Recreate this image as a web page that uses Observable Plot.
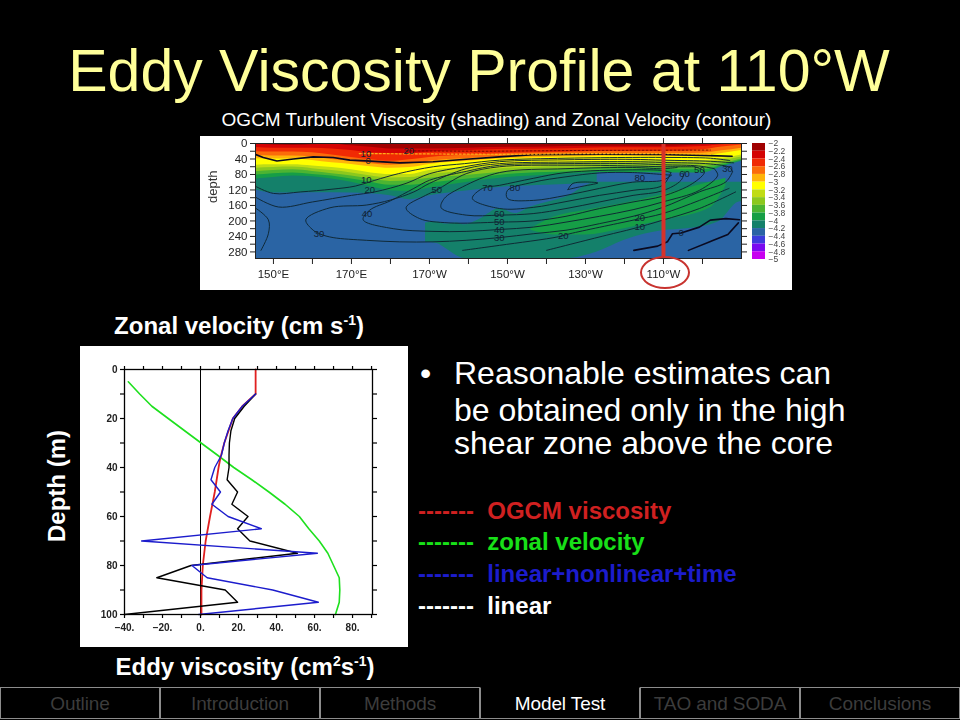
<!DOCTYPE html>
<html><head><meta charset="utf-8">
<script src="https://cdn.jsdelivr.net/npm/d3@7"></script>
<script src="https://cdn.jsdelivr.net/npm/@observablehq/plot@0.6"></script>
<style>
html,body{margin:0;background:#000;width:960px;height:720px;overflow:hidden;font-family:"Liberation Sans",sans-serif}
.a{position:absolute;white-space:nowrap}
.panel{position:absolute;background:#fff}
.b{font-weight:bold;color:#fff;font-size:24px}
sup{font-size:14px;line-height:0}
.tab{position:absolute;top:687px;width:160px;height:32px;box-sizing:border-box;border:1px solid #8c8c8c;text-align:center;line-height:32px;font-size:19px;letter-spacing:-.1px;color:#3c3c3c}
.leg{position:absolute;left:418px;font-weight:bold;font-size:24px;white-space:pre;line-height:26px}
.t{font-size:32px;color:#fff;line-height:34px}
svg{filter:blur(.35px)}
</style></head><body>
<div class="a" id="title" style="left:0;width:958px;text-align:center;top:33px;font-size:59px;color:#ffff99;line-height:76px">Eddy Viscosity Profile at 110°W</div>
<div class="a" style="left:0;width:993px;text-align:center;top:110px;font-size:19px;color:#fff;line-height:20px">OGCM Turbulent Viscosity (shading) and Zonal Velocity (contour)</div>
<div class="panel" style="left:200px;top:136px;width:592px;height:154px"></div>
<div class="panel" style="left:80px;top:346px;width:328px;height:301px"></div>
<div class="a b" style="left:0;width:478px;text-align:center;top:314px;line-height:24px">Zonal velocity (cm s<sup>-1</sup>)</div>
<div class="a b" style="left:0;width:490px;text-align:center;top:655px;line-height:24px">Eddy viscosity (cm<sup>2</sup>s<sup>-1</sup>)</div>
<div class="a b" style="left:57px;top:486px;transform:translate(-50%,-50%) rotate(-90deg)">Depth (m)</div>
<div class="a t" style="left:420px;top:356px">•</div>
<div class="a t" style="left:454px;top:356px">Reasonable estimates can</div>
<div class="a t" style="left:454px;top:393px">be obtained only in the high</div>
<div class="a t" style="left:454px;top:426px">shear zone above the core</div>
<div class="leg" style="top:498px;color:#d02020">-------  OGCM viscosity</div>
<div class="leg" style="top:529px;color:#18e018">-------  zonal velocity</div>
<div class="leg" style="top:561px;color:#1c1ccc">-------  linear+nonlinear+time</div>
<div class="leg" style="top:593px;color:#fff">-------  linear</div>
<div id="tabs"></div>
<div id="p1" class="a" style="left:200px;top:136px"></div>
<div id="p2" class="a" style="left:745px;top:136px"></div>
<div id="p3" class="a" style="left:80px;top:346px"></div>
<div class="a" style="left:640px;top:256px;width:46px;height:29px;border:2px solid #c8332f;border-radius:50%"></div>
<script>
// ---- navigation
const tabNames = ["Outline","Introduction","Methods","Model Test","TAO and SODA","Conclusions"];
const activeTab = "Model Test";

// ---- profile chart (depth in m, value in chart units)
const ogcmDepth = [0,10,15,20,30,36,40,50,60,70,80,90,100];
const ogcmValue = [29,29,22,17,12.5,10.5,9.5,7.5,5,2.7,1.2,.5,.5];
const zonalDepth = [5,10,15,20,30,35,40,45,50,55,60,65,70,75,80,85,90,95,100];
const zonalValue = [-38,-32,-25.6,-17,0.3,9,17.5,27,36,44.5,52,57,62.5,67,70,73,73.3,73,71];
const linearDepth = [10,15,20,25,30,35,40,45,50,55,60,65,70,75,80,85,90,95,100];
const linearValue = [29,23,18,16,15.2,15,15,14,19.5,16.5,25,19.5,26,51,-5,-23,13,19.5,-40];
const fullDepth = [10,15,20,25,30,35,40,45,50,55,60,65,70,75,80,85,90,95,100];
const fullValue = [29,22,17,14.5,12.5,11,7.5,5.5,10.5,6,14.5,32,-31,61.5,-4.5,3.5,38,62,-1];
const profileXTicks = [-40,-30,-20,-10,0,10,20,30,40,50,60,70,80,90];
const profileXLabels = [-40,-20,0,20,40,60,80];
const profileYTicks = [0,10,20,30,40,50,60,70,80,90,100];
const profileYLabels = [0,20,40,60,80,100];

// ---- shading: depth of each colour boundary, read at these longitudes (deg E)
const bandLon = [145,150,155,160,165,170,175,180,185,190,200,210,220,230,240,250,260,265,270];
const edge22 = [0,4,5,3,1,6,10,14,14,14,12,10,9,7,7,7,3,0,0];
const edge24 = [10,12,12,12,14,18,24,26,26,22,18,15,14,12,11,11,8,3,0];
const edge26 = [21,22,22,24,30,36,42,46,42,36,30,26,24,21,20,20,16,9,4];
const edge28 = [31,32,32,35,41,46,52,56,53,46,39,33,31,28,27,27,25,19,12];
const edge30 = [39,40,40,44,50,54,60,64,62,54,46,39,36,34,33,34,32,26,18];
const edge32 = [56,55,55,58,62,68,76,80,80,70,62,56,52,48,46,44,44,39,30];
const edge34 = [64,62,61,65,70,76,84,89,88,80,72,64,60,56,53,52,52,45,35];
const edge36 = [73,70,68,72,78,84,92,98,96,90,82,73,68,64,60,60,60,52,40];
const edge38 = [82,78,76,80,84,92,100,108,108,102,92,80,75,72,68,68,68,56,43];
const edge40 = [92,88,84,86,92,100,112,122,124,115,100,88,82,76,75,76,76,60,46];
const edge42Lon = [145,150,160,170,180,185,190,200,210,220,233];
const edge42 = [118,128,127,128,135,145,135,122,112,108,102];
// deep teal tongue under the blue lens
const deepLon = [189,192,194,197,199,203,208,212,216,225,233,240,250,256,264,269.4,270.5];
const deepTop = [205,203,208,205,210,195,168,181,164,138,100,100,100,100,100,100,100];
const deepBot = [255,258,270,290,297,297,297,297,297,297,280,250,225,220,203,151,150];
// greener leaf inside the tongue
const leafLon = [216,222,230,239,249,262,266];
const leafTop = [220,190,173,156,134,100,90];
const leafBot = [224,236,236,222,200,166,110];
const bandEdges = [-2,-2.2,-2.4,-2.6,-2.8,-3,-3.2,-3.4,-3.6,-3.8,-4,-4.2,-4.4,-4.6,-4.8,-5];
const bandColors = ["#a00000","#d40404","#f02a04","#fb6c0a","#ffb40a","#ffff00","#c0dc14","#8cc81e","#4cb432","#169e46","#14806a","#2a64a4","#3c3cdc","#7a0af0","#c800f0"];

// ---- velocity contours: [lon, depth]
const v0a = [[145.3,28],[147.4,36],[150.9,45],[155.1,40],[160.2,34.5],[165.3,36],[169.6,43],[173.8,45],[182.4,50],[190.9,47],[199.4,40.5],[207.9,34.5],[216.5,29],[233.5,27.6],[249.7,28.4],[267.6,32.8]];
const v0b = [[242.4,276],[248.5,265],[251,254],[252.3,233],[254.5,231],[259.2,216],[262,198],[266,194],[269.5,197]];
const v0c = [[256.4,276],[266.5,235],[269.2,205]];
const v10a = [[145.3,110],[150,129],[157,125],[165,118],[171,110],[176,95],[182,78],[191,60],[199,52],[208,43],[225,38],[242,36],[250,36],[262,38],[267,44]];
const v10b = [[220,276],[235.3,237],[242.2,220],[249.8,198],[259.2,168],[268.5,125]];
const v20a = [[145.3,138],[151.3,164],[160,151],[170,134],[176,125],[184,103],[190,78],[199,60],[208,47],[225,42],[242,41],[250,43],[262,46],[268,50]];
const v20b = [[198.5,276],[208,263],[223,241],[226,233],[242.2,198],[249.8,181],[259.2,147],[266.8,116]];
const v30a = [[145.3,166],[148.7,197],[148.7,233],[146.8,276]];
const v30b = [[267.7,73],[267,62],[262,53],[250,49],[242,47],[225,48],[208,52],[199.4,65],[190,103],[186,125],[180,146],[173.8,159],[164.5,166],[158.3,197],[160.2,224],[162,234],[165.3,243],[173.8,250],[182.4,254],[190.9,254],[199.4,250],[208,243],[216.6,233],[225,224],[233.6,207],[242.2,188],[249.8,165],[259.2,125],[266,99],[267.7,73]];
const v40 = [[263,65],[259,58],[250,55],[242,52],[225,52],[208,56],[199.4,72],[190,95],[186,116],[180,148],[174.7,172],[173,197],[180.7,220],[190.9,227],[199.4,227],[208,222],[216.6,216],[225,203],[233.6,188],[242.2,171],[249.8,151],[259.2,121],[263.9,82],[263,65]];
const v50 = [[258,60],[250,60],[242,58],[225,56],[208,60],[199.4,78],[191.7,121],[189,134],[184,166],[187.5,194],[195,205],[208,203],[216.6,200],[225,188],[233.6,168],[242.2,151],[249.8,136],[257.5,103],[260.5,73],[258,60]];
const v60 = [[253.5,62],[250,65],[242,62],[225,65],[208,75],[198.5,112],[193.8,142],[193,166],[199.4,185],[208,185],[216.6,181],[225,168],[233.6,151],[242.2,134],[249.8,122],[254.5,95],[255.4,73]];
const v70 = [[251.9,75],[250,70],[242,68],[225,75],[216.6,90],[208,108],[203.6,116],[201,142],[208,168],[216.6,165],[225,150],[233.6,134],[242.2,121],[249.8,108],[251.9,75]];
const v80 = [[252,82],[242,75],[233.6,76],[225,86],[216.6,100],[210,121],[210,142],[216.6,147],[225,134],[233.6,116],[242,100],[249.8,95],[252,82]];
const v90 = [[225.5,119],[226.8,103],[233.2,102],[228.5,112],[225.5,119]];
const thinContours = [v10a,v10b,v20a,v20b,v30a,v30b,v40,v50,v60,v70,v80,v90];
const thickContours = [v0a,v0b,v0c];
const dashA = [[172,26],[190,27],[210,28],[230,26],[262,26]];
const dashB = [[184,19],[205,20],[228,18],[262,17]];

const contourLabels = [["10",173.8,95],["20",174.7,119],["30",161.7,233],["40",174,181],["50",191.9,121],["70",204.9,116],["10",173.7,26],["20",184.7,19],["0",174.3,45],["80",211.9,114],["80",243.9,89],["60",255.4,78],["50",259.2,69],["30",266.4,65],["60",207.9,183],["50",207.9,203],["40",207.9,223],["30",207.9,243],["20",224.3,240],["20",243.9,191],["10",243.9,216],["0",254.5,231]];

const lonTicks = [150,160,170,180,190,200,210,220,230,240,250,260];
const lonLabels = {150:"150°E",170:"170°E",190:"170°W",210:"150°W",230:"130°W",250:"110°W"};
const depthTicks = [0,20,40,60,80,100,120,140,160,180,200,220,240,260,280];
const depthLabels = [0,40,80,120,160,200,240,280];
const markerLon = 250;

// ---- build
const tabs = document.getElementById("tabs");
tabNames.forEach((n,i)=>{
  const d = document.createElement("div");
  d.className="tab"; d.textContent=n; d.style.left=(i*160)+"px";
  if(n===activeTab){d.style.color="#fff";d.style.borderTopColor="#000";}
  tabs.appendChild(d);
});

const font = "'Liberation Sans',sans-serif";
const layer = (lons,depths,color)=>Plot.areaY(lons.map((lon,i)=>({lon,d:depths[i]})),{x:"lon",y1:()=>0,y2:"d",fill:color,curve:"monotone-x",clip:true});
const band = (lons,tops,bots,color)=>Plot.areaY(lons.map((lon,i)=>({lon,t:tops[i],b:bots[i]})),{x:"lon",y1:"t",y2:"b",fill:color,curve:"monotone-x",clip:true});
const pts = a=>a.map(([lon,depth])=>({lon,depth}));
const stack = [edge40,edge38,edge36,edge34,edge32,edge30,edge28,edge26,edge24,edge22];

document.getElementById("p1").append(Plot.plot({
  width:592,height:154,marginLeft:55,marginRight:51,marginTop:7,marginBottom:32,
  style:{background:"transparent",fontFamily:font,fontSize:"11.5px",color:"#222"},
  x:{domain:[145.4,270],axis:null},
  y:{domain:[297,0],axis:null},
  marks:[
    Plot.rect([0],{x1:()=>145.4,x2:()=>270,y1:()=>0,y2:()=>297,fill:bandColors[11]}),
    band(deepLon,deepTop,deepBot,bandColors[10]),
    band(leafLon,leafTop,leafBot,bandColors[9]),
    layer(edge42Lon,edge42,bandColors[10]),
    ...stack.map((e,i)=>layer(bandLon,e,bandColors[9-i])),
    ...thinContours.map(c=>Plot.line(pts(c),{x:"lon",y:"depth",stroke:"#0e2632",strokeWidth:.95,curve:"catmull-rom",clip:true})),
    ...thickContours.map(c=>Plot.line(pts(c),{x:"lon",y:"depth",stroke:"#0a0a20",strokeWidth:1.6,clip:true})),
    Plot.line(pts(dashA),{x:"lon",y:"depth",stroke:"#ffb01a",strokeWidth:1.2,strokeDasharray:"2,2"}),
    Plot.line(pts(dashB),{x:"lon",y:"depth",stroke:"#7a0000",strokeWidth:1,strokeDasharray:"2,2"}),
    Plot.text(contourLabels,{x:d=>d[1],y:d=>d[2],text:d=>d[0],fill:"#123",fontSize:9.5}),
    Plot.ruleX([markerLon],{stroke:"#d6322a",strokeWidth:4,y1:()=>0,y2:()=>297}),
    Plot.frame({stroke:"#222",strokeWidth:1}),
    Plot.axisX({anchor:"bottom",ticks:lonTicks,tickSize:6,tickPadding:5,tickFormat:d=>lonLabels[d]||"",stroke:"#222",label:null}),
    Plot.axisX({anchor:"top",ticks:lonTicks,tickSize:6,tickFormat:()=>"",stroke:"#222",label:null}),
    Plot.axisY({anchor:"left",ticks:depthTicks,tickSize:5,tickPadding:3,tickFormat:d=>depthLabels.includes(d)?d:"",stroke:"#222",label:null}),
    Plot.axisY({anchor:"right",ticks:depthTicks,tickSize:5,tickFormat:()=>"",stroke:"#222",label:null}),
    Plot.text(["depth"],{frameAnchor:"left",dx:-43,dy:2,rotate:-90,fill:"#333",fontSize:13})
  ]
}));

document.getElementById("p2").append(Plot.plot({
  width:60,height:130,marginLeft:7,marginRight:40,marginTop:7,marginBottom:7,
  style:{background:"transparent",fontFamily:font,fontSize:"8.5px",color:"#444"},
  x:{domain:[0,1],axis:null},
  y:{domain:[-5,-2],axis:null},
  marks:[
    Plot.rect(bandColors.map((c,i)=>({c,hi:bandEdges[i],lo:bandEdges[i+1]})),{x1:()=>0,x2:()=>1,y1:"lo",y2:"hi",fill:"c"}),
    Plot.axisY({anchor:"right",ticks:bandEdges,tickSize:0,tickPadding:3,tickFormat:d=>"−"+Math.abs(d),label:null})
  ]
}));

const series = (ds,vs)=>ds.map((depth,i)=>({depth,value:vs[i]}));
document.getElementById("p3").append(Plot.plot({
  width:328,height:301,marginLeft:44,marginRight:36,marginTop:23,marginBottom:33,
  style:{background:"transparent",fontFamily:font,fontSize:"10px",color:"#222",fontWeight:"bold"},
  x:{domain:[-40,90.5],axis:null},
  y:{domain:[100,0],axis:null},
  marks:[
    Plot.ruleX([0],{stroke:"#000",strokeWidth:1}),
    Plot.line(series(zonalDepth,zonalValue),{x:"value",y:"depth",stroke:"#1ee01e",strokeWidth:1.6}),
    Plot.line(series(ogcmDepth,ogcmValue),{x:"value",y:"depth",stroke:"#e02020",strokeWidth:1.8}),
    Plot.line(series(linearDepth,linearValue),{x:"value",y:"depth",stroke:"#000",strokeWidth:1.4}),
    Plot.line(series(fullDepth,fullValue),{x:"value",y:"depth",stroke:"#1c1ccc",strokeWidth:1.4}),
    Plot.frame({stroke:"#000",strokeWidth:1.3}),
    Plot.axisX({anchor:"bottom",ticks:profileXTicks,tickSize:4,tickPadding:5,tickFormat:d=>profileXLabels.includes(d)?(d<0?"−":"")+Math.abs(d)+".":"",stroke:"#000",strokeWidth:1.2,label:null}),
    Plot.axisX({anchor:"top",ticks:profileXTicks,tickSize:4,tickFormat:()=>"",stroke:"#000",strokeWidth:1.2,label:null}),
    Plot.axisY({anchor:"left",ticks:profileYTicks,tickSize:4,tickPadding:3,tickFormat:d=>profileYLabels.includes(d)?d:"",stroke:"#000",strokeWidth:1.2,label:null}),
    Plot.axisY({anchor:"right",ticks:profileYTicks,tickSize:4,tickFormat:()=>"",stroke:"#000",strokeWidth:1.2,label:null})
  ]
}));
</script>
</body></html>
